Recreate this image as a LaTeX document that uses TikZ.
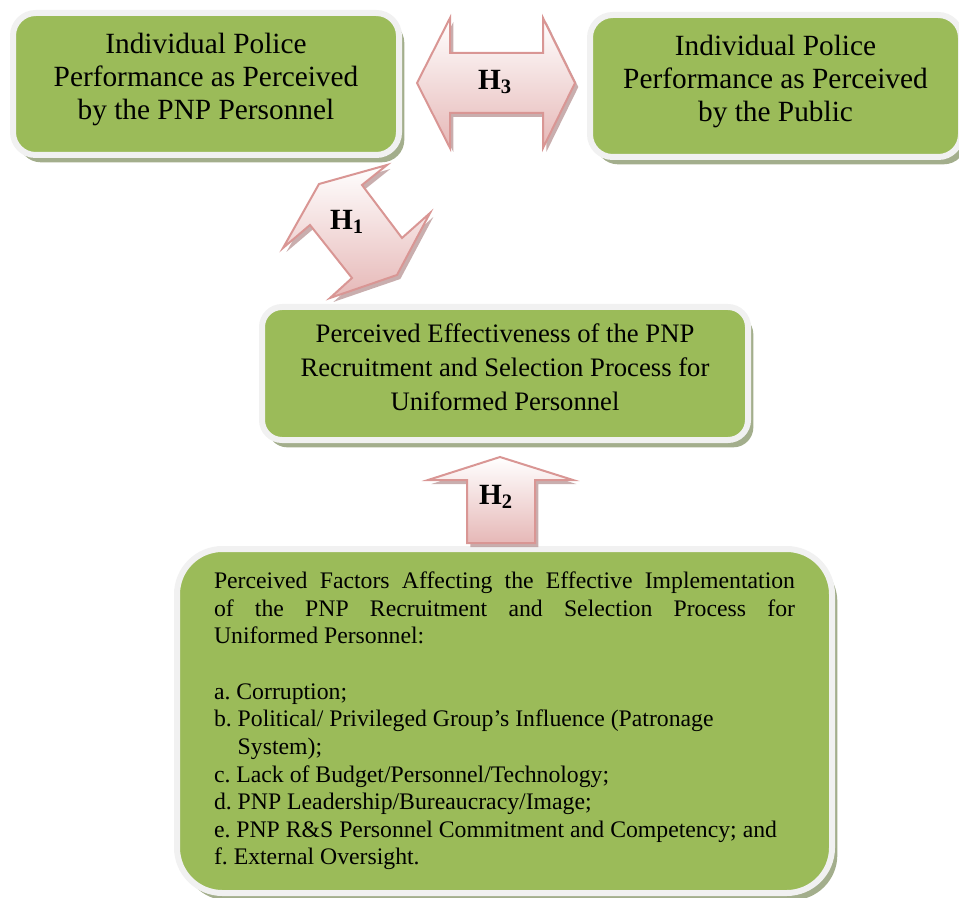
\documentclass[tikz,border=0pt]{standalone}
\usepackage{fontspec}
\setmainfont{Liberation Serif}
\usetikzlibrary{shadows}

\definecolor{boxgreen}{RGB}{155,187,89}
\definecolor{boxframe}{RGB}{241,241,241}
\definecolor{boxshade}{RGB}{163,174,140}
\definecolor{arrowline}{RGB}{217,150,148}
\definecolor{arrowfill}{RGB}{230,184,183}
\definecolor{arrowshade}{RGB}{178,140,140}

\newcommand{\lowstrut}[1]{\rule[-#1]{0pt}{1pt}}
\frenchspacing

\tikzset{
  greenbox/.style={draw=boxframe, line width=4.5pt, fill=boxgreen, rounded corners=17pt, align=center,
    drop shadow={shadow xshift=4pt, shadow yshift=-5.5pt, fill=boxshade, opacity=1}},
  blockarrow/.style={draw=arrowline, line width=1.5pt, top color=white, bottom color=arrowfill,
    drop shadow={shadow xshift=2.5pt, shadow yshift=-3pt, fill=arrowshade, opacity=.7}},
  hlabel/.style={font=\fontsize{22}{26}\selectfont\bfseries},
  boxfont/.style={font=\fontsize{22}{24.75}\selectfont}
}

\begin{document}
\begin{tikzpicture}[x=0.75pt,y=-0.75pt]
        \useasboundingbox (0,0) rectangle (959,898);
        \clip (0,0) rectangle (959,898);
        % Boxes
        \node[greenbox, boxfont, minimum width=289.5pt, minimum height=106.5pt] (perfpnp) at (206,84)
            {Individual Police\\Performance as Perceived\\by the PNP Personnel\lowstrut{11.3pt}};
        \node[greenbox, boxfont, minimum width=278.25pt, minimum height=106.5pt] (perfpublic) at (775.5,86)
            {Individual Police\\Performance as Perceived\\by the Public\lowstrut{11.3pt}};
        \node[greenbox, font=\fontsize{20}{25.5}\selectfont, minimum width=364.5pt, minimum height=99.75pt,
              rounded corners=15pt] (effect) at (505,373.5)
            {Perceived Effectiveness of the PNP\\Recruitment and Selection Process for\\Uniformed Personnel\lowstrut{9.8pt}};
        \node[greenbox, minimum width=491.25pt, minimum height=258pt, rounded corners=34pt,
              text width=435.75pt, align=justify, font=\fontsize{17.8}{20.7}\selectfont] (factors) at (504.5,721)
            {Perceived Factors Affecting the Effective Implementation\linebreak
             of the PNP Recruitment and Selection Process for\linebreak
             Uniformed Personnel:\par
             \vspace{\baselineskip}\raggedright
             a. Corruption;\par
             \hangindent=1em\hangafter=1 b. Political/ Privileged Group’s Influence (Patronage\newline System);\par
             c. Lack of Budget/Personnel/Technology;\par
             d. PNP Leadership/Bureaucracy/Image;\par
             e. PNP R\&S Personnel Commitment and Competency; and\par
             f. External Oversight.};
        % Arrows
        \filldraw[blockarrow] (417,83) -- (450,18) -- (450,53) -- (543,53) -- (543,18) -- (575,83)
            -- (543,148) -- (543,113) -- (450,113) -- (450,148) -- cycle;
        \filldraw[blockarrow] (319,184) -- (387,165) -- (362,185) -- (402,238) -- (430,213) -- (397,275)
            -- (330,298) -- (352,278) -- (310,225) -- (283,248) -- cycle;
        \filldraw[blockarrow] (500,457) -- (573,480) -- (535,480) -- (535,543) -- (467,543)
            -- (467,480) -- (428,480) -- cycle;
        \node[hlabel] (h3) at (495,82) {H\textsubscript{3}};
        \node[hlabel] (h1) at (347,222) {H\textsubscript{1}};
        \node[hlabel] (h2) at (496,497) {H\textsubscript{2}};

    \end{tikzpicture}
\end{document}
